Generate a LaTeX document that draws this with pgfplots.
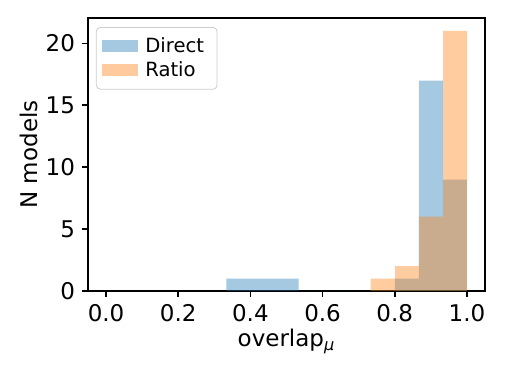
\documentclass[border=0pt]{standalone}
\usepackage{fontspec}
\setmainfont{DejaVu Sans}
\usepackage{pgfplots}
\pgfplotsset{compat=1.18}
\definecolor{mplblue}{HTML}{1F77B4}
\definecolor{mplorange}{HTML}{FF7F0E}
\begin{document}
\begin{tikzpicture}
\begin{axis}[
  at={(0,0)}, anchor=south west,
  scale only axis, width=198.5pt, height=136.5pt,
  xmin=-0.05, xmax=1.05, ymin=0, ymax=22.05,
  xtick={0,0.2,0.4,0.6,0.8,1.0},
  ytick={0,5,10,15,20},
  xticklabel style={/pgf/number format/.cd, fixed, fixed zerofill, precision=1},
  /pgf/number format/assume math mode=true,
  tick align=outside, xtick pos=left, ytick pos=left,
  major tick length=3pt,
  every tick/.style={black, line width=0.8pt},
  axis line style={line width=0.8pt},
  tick label style={font=\fontsize{11.5}{14}\selectfont},
  label style={font=\fontsize{11.5}{14}\selectfont},
  xlabel={overlap\textsubscript{\itshape μ}},
  xlabel style={yshift=3pt},
  ylabel={N models},
  ylabel style={yshift=-3pt},
  legend style={at={(0.02,0.967)}, anchor=north west, draw=black!20,
    rounded corners=2pt, fill=white, fill opacity=0.8, text opacity=1,
    font=\fontsize{9.8}{11.5}\selectfont, row sep=-1pt, inner xsep=3pt, inner ysep=3pt,
    nodes={inner xsep=3.5pt}},
  legend cell align=left,
  legend image code/.code={\fill[#1, sharp corners] (0pt,-3pt) rectangle (18pt,3pt);},
]
% Direct: bin edges of width 1/15, left edge and count
\addplot[ybar interval, draw=none, fill=mplblue, fill opacity=0.4] coordinates {
  (0.33333,1) (0.40000,1) (0.46667,1) (0.53333,0) (0.60000,0) (0.66667,0)
  (0.73333,0) (0.80000,1) (0.86667,17) (0.93333,9) (1.00000,0)
};
\addlegendentry{Direct}
% Ratio
\addplot[ybar interval, draw=none, fill=mplorange, fill opacity=0.4] coordinates {
  (0.73333,1) (0.80000,2) (0.86667,6) (0.93333,21) (1.00000,0)
};
\addlegendentry{Ratio}
\end{axis}
\pgfresetboundingbox
\path (-44pt,-44pt) rectangle (208.5pt,145.5pt);
\end{tikzpicture}
\end{document}
